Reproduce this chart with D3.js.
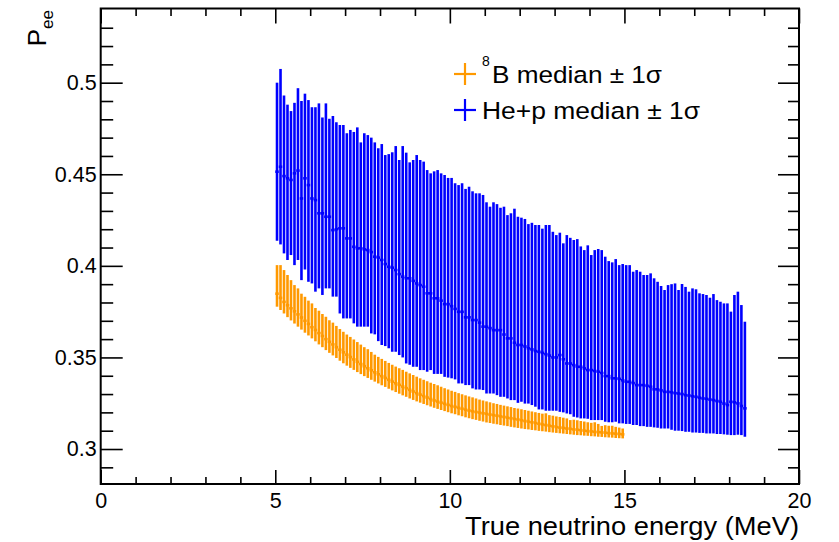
<!DOCTYPE html>
<html><head><meta charset="utf-8">
<script src="https://cdn.jsdelivr.net/npm/d3@7"></script>
<style>
body{margin:0;background:#fff}
svg{display:block}
text{font-family:"Liberation Sans",Arial,Helvetica,sans-serif;fill:#000}
</style>
</head><body>
<svg id="chart" width="839" height="542"></svg>
<script>
// ---------------- data ----------------
const binWidth = 0.1;          // MeV
const firstBinCenter = 5.05;   // MeV

// 8B : median and +/- 1 sigma
const b8High = [
 0.4004,0.4004,0.3977,0.3950,0.3922, 0.3895,0.3877,0.3848,0.3831,0.3810,
 0.3795,0.3770,0.3755,0.3737,0.3722, 0.3703,0.3690,0.3672,0.3655,0.3640,
 0.3625,0.3612,0.3598,0.3584,0.3570, 0.3556,0.3545,0.3530,0.3515,0.3503,
 0.3492,0.3481,0.3470,0.3460,0.3450, 0.3441,0.3432,0.3422,0.3413,0.3404,
 0.3395,0.3386,0.3378,0.3370,0.3362, 0.3355,0.3348,0.3340,0.3332,0.3325,
 0.3318,0.3312,0.3305,0.3299,0.3293, 0.3287,0.3282,0.3276,0.3270,0.3265,
 0.3260,0.3255,0.3250,0.3246,0.3241, 0.3237,0.3233,0.3229,0.3224,0.3221,
 0.3217,0.3213,0.3209,0.3205,0.3201, 0.3197,0.3193,0.3195,0.3185,0.3182,
 0.3178,0.3175,0.3171,0.3167,0.3158, 0.3160,0.3157,0.3153,0.3150,0.3146,
 0.3143,0.3146,0.3137,0.3126,0.3130, 0.3127,0.3127,0.3121,0.3117,0.3112];
const b8Median = [
 0.3848,0.3825,0.3803,0.3785,0.3768, 0.3752,0.3735,0.3718,0.3700,0.3683,
 0.3665,0.3650,0.3633,0.3617,0.3600, 0.3585,0.3571,0.3556,0.3542,0.3528,
 0.3515,0.3502,0.3489,0.3476,0.3464, 0.3452,0.3441,0.3430,0.3419,0.3408,
 0.3398,0.3388,0.3378,0.3368,0.3359, 0.3350,0.3341,0.3332,0.3323,0.3314,
 0.3305,0.3297,0.3289,0.3281,0.3273, 0.3265,0.3259,0.3253,0.3247,0.3241,
 0.3235,0.3230,0.3225,0.3220,0.3215, 0.3210,0.3206,0.3202,0.3199,0.3195,
 0.3192,0.3188,0.3185,0.3182,0.3178, 0.3175,0.3171,0.3168,0.3164,0.3161,
 0.3157,0.3153,0.3149,0.3146,0.3142, 0.3138,0.3134,0.3131,0.3127,0.3124,
 0.3120,0.3117,0.3115,0.3112,0.3110, 0.3107,0.3105,0.3103,0.3100,0.3098,
 0.3096,0.3094,0.3092,0.3091,0.3089, 0.3087,0.3085,0.3084,0.3082,0.3080];
const b8Low = [
 0.3777,0.3759,0.3740,0.3720,0.3702, 0.3685,0.3668,0.3652,0.3635,0.3620,
 0.3604,0.3588,0.3571,0.3556,0.3540, 0.3525,0.3511,0.3497,0.3482,0.3468,
 0.3455,0.3443,0.3432,0.3420,0.3409, 0.3398,0.3388,0.3378,0.3368,0.3358,
 0.3348,0.3339,0.3329,0.3320,0.3311, 0.3302,0.3293,0.3285,0.3276,0.3268,
 0.3260,0.3253,0.3246,0.3239,0.3232, 0.3225,0.3219,0.3213,0.3207,0.3201,
 0.3195,0.3190,0.3184,0.3179,0.3173, 0.3168,0.3163,0.3159,0.3154,0.3150,
 0.3145,0.3142,0.3138,0.3135,0.3131, 0.3128,0.3125,0.3121,0.3118,0.3115,
 0.3112,0.3109,0.3107,0.3104,0.3102, 0.3099,0.3097,0.3095,0.3092,0.3090,
 0.3088,0.3086,0.3084,0.3082,0.3080, 0.3078,0.3076,0.3075,0.3073,0.3072,
 0.3070,0.3069,0.3067,0.3066,0.3064, 0.3063,0.3062,0.3060,0.3059,0.3058];

// He+p : median and +/- 1 sigma
const hepHigh = [
 0.5000,0.5075,0.4930,0.4880,0.4845,0.4890,0.4970,0.4900,0.4940,0.4905,
 0.4866,0.4866,0.4887,0.4810,0.4887,0.4803,0.4818,0.4784,0.4769,0.4769,
 0.4724,0.4742,0.4731,0.4756,0.4674,0.4724,0.4714,0.4700,0.4674,0.4642,
 0.4665,0.4605,0.4610,0.4620,0.4654,0.4578,0.4654,0.4618,0.4565,0.4578,
 0.4605,0.4578,0.4569,0.4523,0.4505,0.4516,0.4523,0.4505,0.4496,0.4480,
 0.4480,0.4451,0.4441,0.4451,0.4420,0.4432,0.4407,0.4396,0.4396,0.4387,
 0.4347,0.4323,0.4347,0.4337,0.4317,0.4323,0.4277,0.4287,0.4312,0.4268,
 0.4263,0.4256,0.4228,0.4235,0.4223,0.4223,0.4203,0.4223,0.4223,0.4186,
 0.4168,0.4181,0.4123,0.4168,0.4153,0.4141,0.4146,0.4106,0.4086,0.4112,
 0.4059,0.4086,0.4092,0.4086,0.4050,0.4026,0.4019,0.4037,0.4004,0.4010,
 0.4004,0.4004,0.3968,0.3977,0.3968,0.3950,0.3950,0.3959,0.3932,0.3913,
 0.3890,0.3868,0.3895,0.3900,0.3904,0.3868,0.3901,0.3885,0.3859,0.3877,
 0.3872,0.3850,0.3846,0.3841,0.3826,0.3846,0.3813,0.3804,0.3795,0.3795,
 0.3750,0.3841,0.3859,0.3786,0.3695];
const hepMedian = [
 0.4514,0.4541,0.4490,0.4478,0.4469,0.4505,0.4520,0.4368,0.4478,0.4441,
 0.4368,0.4359,0.4287,0.4287,0.4268,0.4268,0.4195,0.4200,0.4205,0.4205,
 0.4150,0.4150,0.4104,0.4095,0.4096,0.4090,0.4086,0.4075,0.4050,0.4045,
 0.4032,0.4010,0.3995,0.3990,0.3977,0.3955,0.3941,0.3932,0.3932,0.3918,
 0.3904,0.3895,0.3886,0.3850,0.3850,0.3823,0.3823,0.3810,0.3791,0.3791,
 0.3780,0.3765,0.3749,0.3749,0.3719,0.3719,0.3704,0.3704,0.3690,0.3668,
 0.3668,0.3660,0.3649,0.3649,0.3649,0.3625,0.3604,0.3604,0.3580,0.3568,
 0.3568,0.3560,0.3550,0.3544,0.3535,0.3531,0.3525,0.3518,0.3510,0.3500,
 0.3500,0.3513,0.3490,0.3467,0.3467,0.3458,0.3449,0.3449,0.3440,0.3431,
 0.3431,0.3426,0.3422,0.3415,0.3398,0.3398,0.3386,0.3386,0.3383,0.3375,
 0.3367,0.3367,0.3360,0.3349,0.3349,0.3349,0.3345,0.3340,0.3326,0.3326,
 0.3320,0.3312,0.3312,0.3310,0.3305,0.3303,0.3300,0.3294,0.3292,0.3288,
 0.3285,0.3280,0.3276,0.3274,0.3270,0.3267,0.3262,0.3258,0.3248,0.3240,
 0.3258,0.3255,0.3249,0.3235,0.3222];
const hepLow = [
 0.4137,0.4117,0.4068,0.4032,0.4059,0.4004,0.4032,0.3922,0.3980,0.3913,
 0.3904,0.3859,0.3877,0.3841,0.3877,0.3877,0.3832,0.3832,0.3740,0.3713,
 0.3713,0.3713,0.3686,0.3668,0.3668,0.3668,0.3668,0.3631,0.3626,0.3589,
 0.3568,0.3562,0.3550,0.3531,0.3531,0.3513,0.3500,0.3467,0.3460,0.3449,
 0.3449,0.3431,0.3431,0.3422,0.3431,0.3410,0.3410,0.3410,0.3394,0.3390,
 0.3386,0.3380,0.3358,0.3358,0.3349,0.3349,0.3331,0.3325,0.3325,0.3322,
 0.3303,0.3303,0.3303,0.3294,0.3285,0.3285,0.3276,0.3267,0.3267,0.3252,
 0.3258,0.3248,0.3248,0.3240,0.3231,0.3216,0.3216,0.3209,0.3209,0.3209,
 0.3209,0.3203,0.3200,0.3194,0.3190,0.3176,0.3172,0.3167,0.3167,0.3165,
 0.3158,0.3158,0.3158,0.3158,0.3149,0.3146,0.3146,0.3149,0.3140,0.3140,
 0.3137,0.3137,0.3131,0.3131,0.3125,0.3125,0.3121,0.3121,0.3118,0.3116,
 0.3112,0.3112,0.3112,0.3105,0.3100,0.3100,0.3098,0.3094,0.3094,0.3090,
 0.3090,0.3088,0.3088,0.3085,0.3085,0.3085,0.3082,0.3082,0.3080,0.3078,
 0.3076,0.3076,0.3078,0.3076,0.3067];

const xMajorTicks = [0, 5, 10, 15, 20];
const xTickLabels = ["0", "5", "10", "15", "20"];
const yMajorTicks = [0.30, 0.35, 0.40, 0.45, 0.50];
const yTickLabels = ["0.3", "0.35", "0.4", "0.45", "0.5"];
const xMinorTicks = [1,2,3,4,6,7,8,9,11,12,13,14,16,17,18,19];
const yMinorTicks = [0.29,0.31,0.32,0.33,0.34,0.36,0.37,0.38,0.39,0.41,0.42,0.43,0.44,0.46,0.47,0.48,0.49,0.51,0.52,0.53];

const legendSup = ["8", ""];
const legendLabels = ["B median \u00b1 1\u03c3", "He+p median \u00b1 1\u03c3"];
const seriesColors = ["#ff9900", "#0000ff"];
const xTitle = "True neutrino energy (MeV)";

// ---------------- layout ----------------
const svg = d3.select("#chart");
svg.append("rect").attr("width", 839).attr("height", 542).attr("fill", "#fff");

const L = 100.7, R = 799, T = 8.5, B = 484;
const x = d3.scaleLinear().domain([0, 20]).range([L, R]);
const y = d3.scaleLinear().domain([0.2809, 0.5405]).range([B, T]);

function toPoints(med, lo, hi) {
  return med.map((m, i) => ({ e: firstBinCenter + i * binWidth, m, lo: lo[i], hi: hi[i] }));
}
const series = [
  { color: seriesColors[1], pts: toPoints(hepMedian, hepLow, hepHigh) },
  { color: seriesColors[0], pts: toPoints(b8Median, b8Low, b8High) }
];

const plot = svg.append("g");
series.forEach(s => {
  const g = plot.append("g").attr("stroke", s.color).attr("stroke-width", 2.6).attr("fill", "none");
  g.selectAll("line.v").data(s.pts).join("line").attr("class", "v")
    .attr("x1", d => x(d.e)).attr("x2", d => x(d.e))
    .attr("y1", d => y(d.lo)).attr("y2", d => y(d.hi));
  g.selectAll("line.h").data(s.pts).join("line").attr("class", "h")
    .attr("x1", d => x(d.e - binWidth / 2)).attr("x2", d => x(d.e + binWidth / 2))
    .attr("y1", d => y(d.m)).attr("y2", d => y(d.m));
});

// ---------------- axes (ROOT style, ticks inside) ----------------
function styleAxis(g) {
  g.select(".domain").remove();
  g.selectAll(".tick line").attr("stroke", "#000").attr("stroke-width", 1.6);
  g.selectAll("text").attr("font-family", '"Liberation Sans",Arial,Helvetica,sans-serif').attr("font-size", 21.5).attr("fill", "#000");
}
svg.append("g").attr("transform", `translate(${L},0)`)
  .call(d3.axisLeft(y).tickValues(yMajorTicks).tickSizeInner(-22).tickSizeOuter(0).tickPadding(4)
    .tickFormat((d, i) => yTickLabels[i])).call(styleAxis);
svg.append("g").attr("transform", `translate(${L},0)`)
  .call(d3.axisLeft(y).tickValues(yMinorTicks).tickSizeInner(-12.5).tickSizeOuter(0).tickFormat("")).call(styleAxis);
svg.append("g").attr("transform", `translate(${R},0)`)
  .call(d3.axisRight(y).tickValues(yMajorTicks).tickSizeInner(-21).tickSizeOuter(0).tickFormat("")).call(styleAxis);
svg.append("g").attr("transform", `translate(${R},0)`)
  .call(d3.axisRight(y).tickValues(yMinorTicks).tickSizeInner(-11).tickSizeOuter(0).tickFormat("")).call(styleAxis);
svg.append("g").attr("transform", `translate(0,${B})`)
  .call(d3.axisBottom(x).tickValues(xMajorTicks).tickSizeInner(-14).tickSizeOuter(0).tickPadding(9)
    .tickFormat((d, i) => xTickLabels[i])).call(styleAxis);
svg.append("g").attr("transform", `translate(0,${B})`)
  .call(d3.axisBottom(x).tickValues(xMinorTicks).tickSizeInner(-7).tickSizeOuter(0).tickFormat("")).call(styleAxis);
svg.append("g").attr("transform", `translate(0,${T})`)
  .call(d3.axisTop(x).tickValues(xMajorTicks).tickSizeInner(-15).tickSizeOuter(0).tickFormat("")).call(styleAxis);
svg.append("g").attr("transform", `translate(0,${T})`)
  .call(d3.axisTop(x).tickValues(xMinorTicks).tickSizeInner(-7.5).tickSizeOuter(0).tickFormat("")).call(styleAxis);

// frame
svg.append("rect").attr("x", L).attr("y", T).attr("width", R - L).attr("height", B - T)
  .attr("fill", "none").attr("stroke", "#000").attr("stroke-width", 2);

// axis titles
svg.append("text").attr("x", 465).attr("y", 535).attr("font-size", 26)
  .attr("textLength", 334).attr("lengthAdjust", "spacingAndGlyphs").text(xTitle);
const yt = svg.append("text").attr("transform", "translate(46,10) rotate(-90)")
  .attr("text-anchor", "end").attr("font-size", 26.5);
yt.append("tspan").text("P");
yt.append("tspan").attr("font-size", 17).attr("dy", 7).text("ee");

// legend
const legendRows = [
  { i: 0, cy: 74, tx: 492, len: 170 },
  { i: 1, cy: 110, tx: 482, len: 218 }
];
const lg = svg.append("g");
legendRows.forEach(r => {
  const c = seriesColors[r.i];
  lg.append("line").attr("x1", 454).attr("x2", 476).attr("y1", r.cy).attr("y2", r.cy)
    .attr("stroke", c).attr("stroke-width", 2.2);
  lg.append("line").attr("x1", 465).attr("x2", 465).attr("y1", r.cy - 11).attr("y2", r.cy + 11)
    .attr("stroke", c).attr("stroke-width", 2.2);
  if (legendSup[r.i]) {
    lg.append("text").attr("x", 482).attr("y", r.cy - 8.5).attr("font-size", 14).text(legendSup[r.i]);
  }
  lg.append("text").attr("x", r.tx).attr("y", r.cy + 8.5).attr("font-size", 24.5)
    .attr("textLength", r.len).attr("lengthAdjust", "spacingAndGlyphs").text(legendLabels[r.i]);
});
</script>
</body></html>
